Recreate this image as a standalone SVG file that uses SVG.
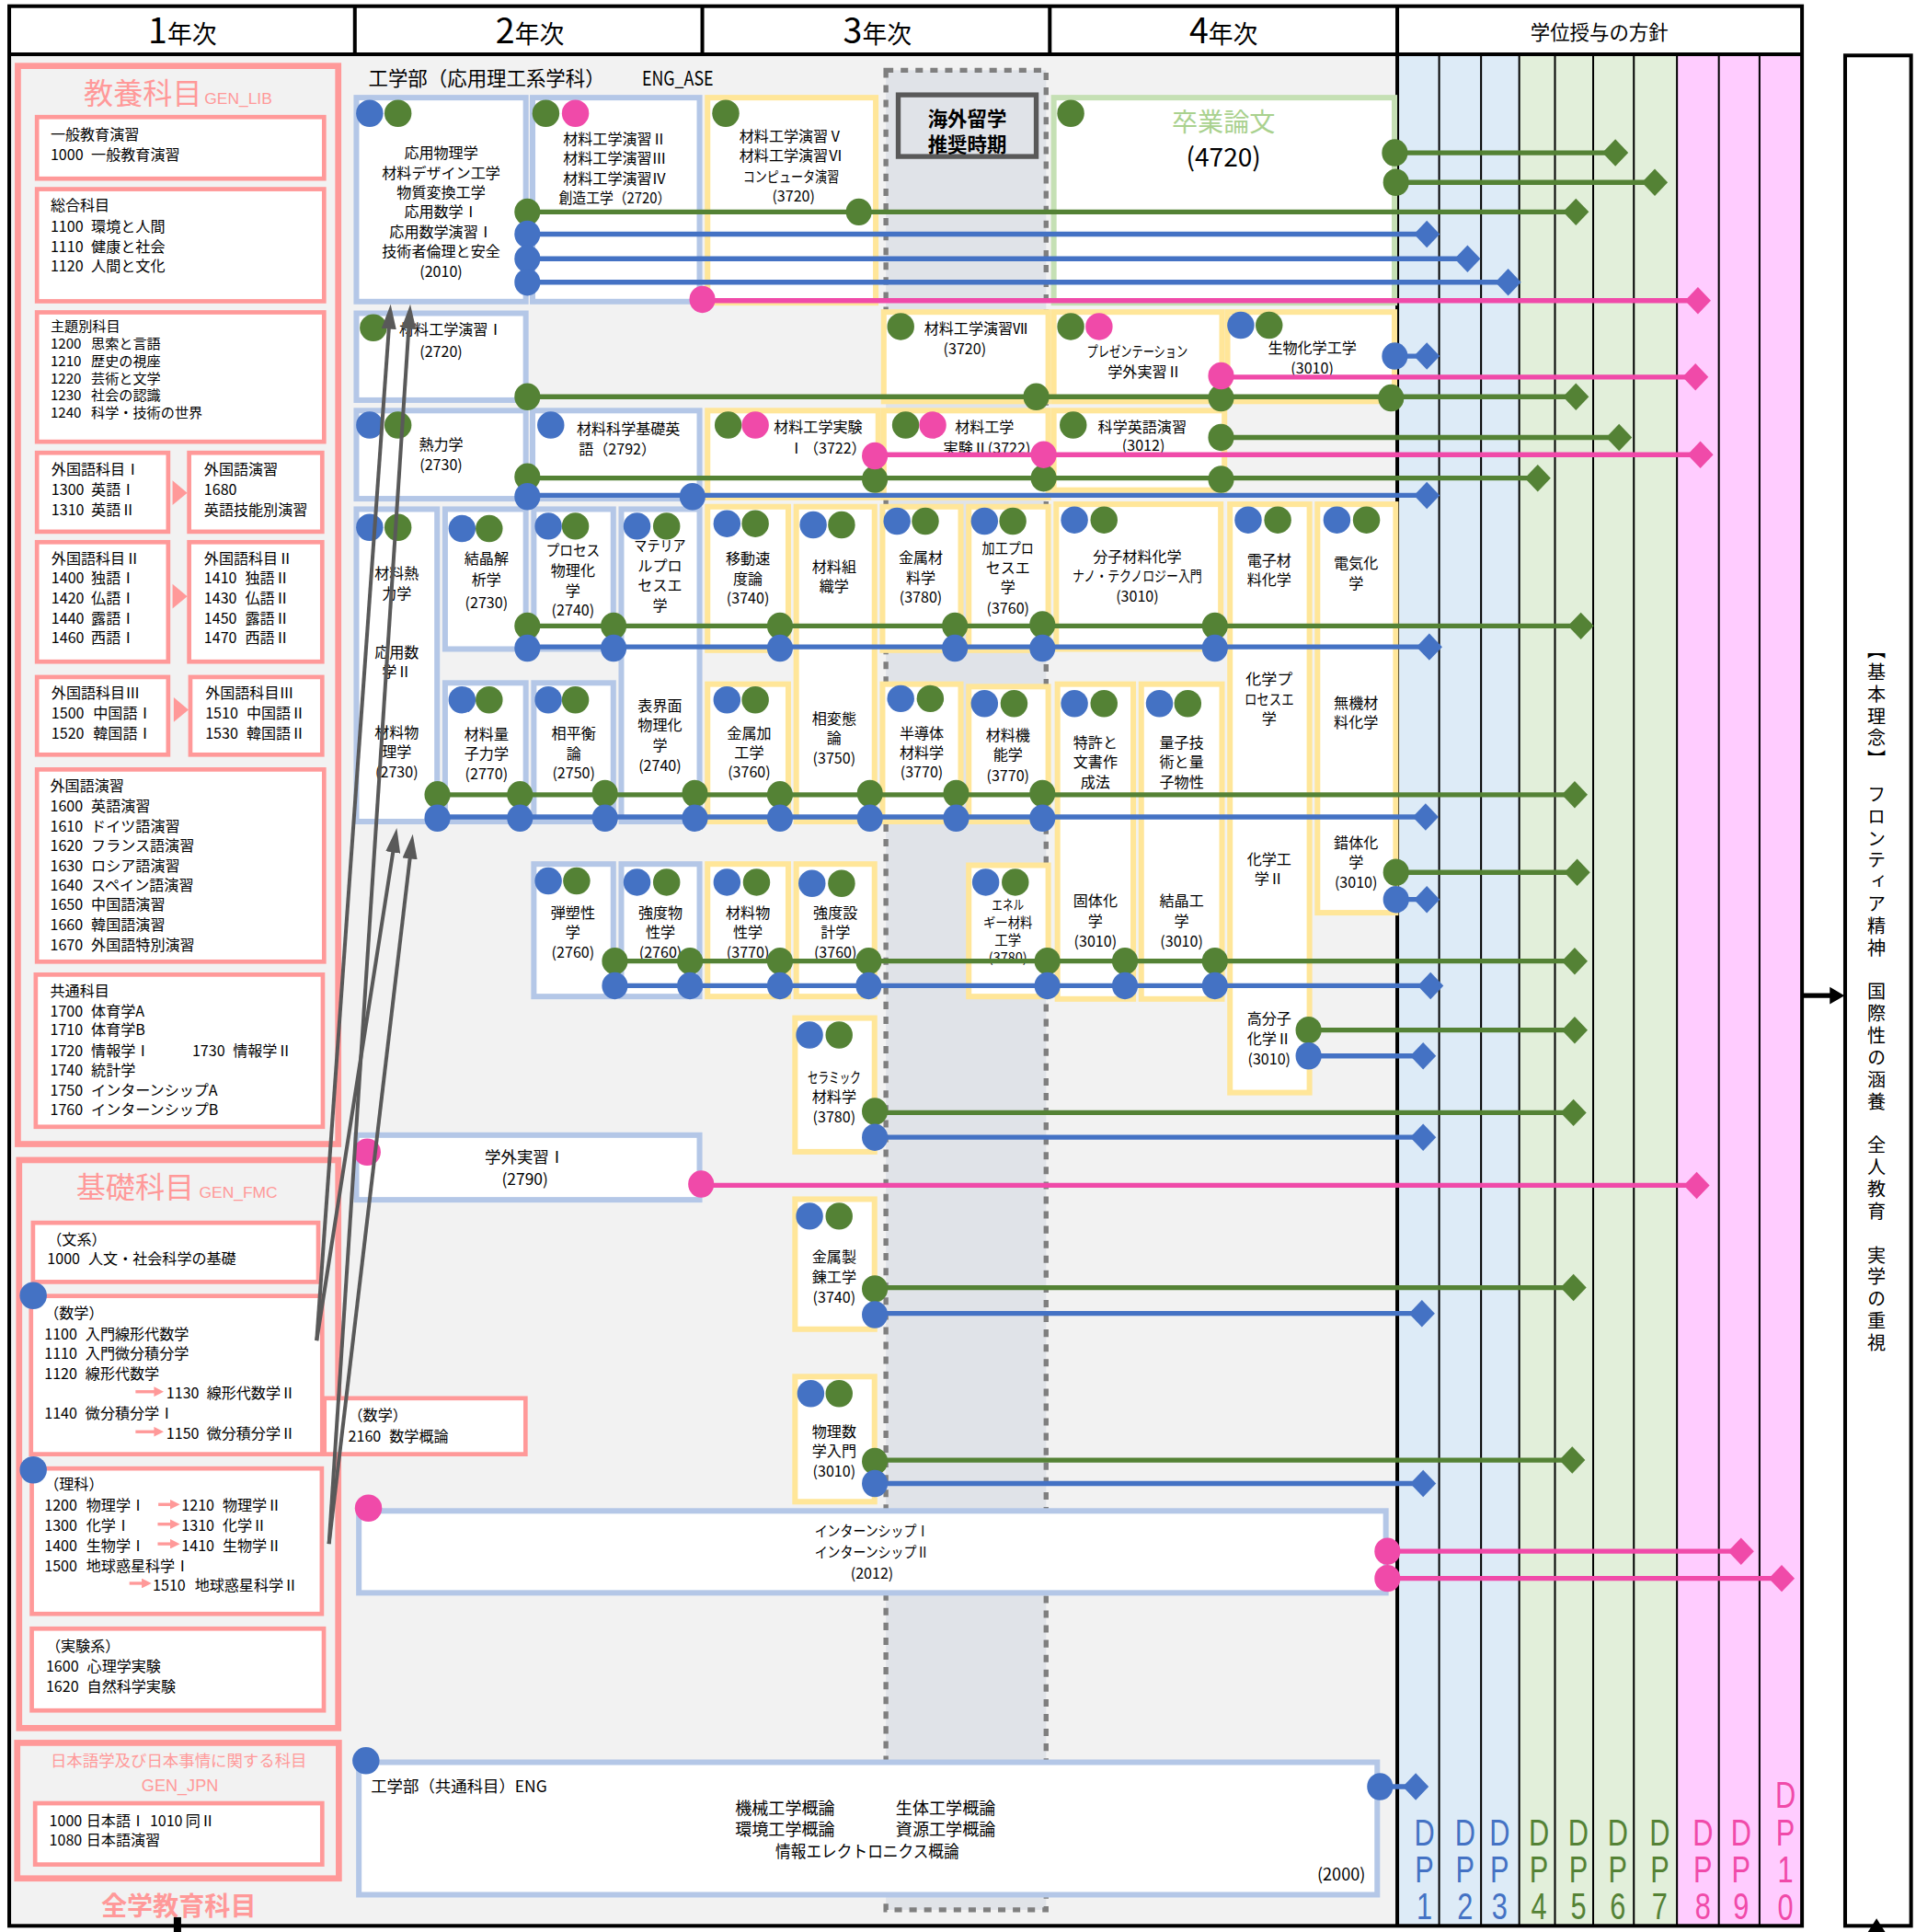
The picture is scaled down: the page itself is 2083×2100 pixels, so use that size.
<svg xmlns="http://www.w3.org/2000/svg" width="2083" height="2100" viewBox="0 0 2083 2100">
<style>
.t{font-family:"Noto Sans CJK JP","Noto Sans",sans-serif;font-size:12px;fill:#000;dominant-baseline:central}
.c{text-anchor:middle}
.e{text-anchor:end}
.pt{fill:#ff9999}
.hd{dominant-baseline:auto}
.bx{fill:#fff;stroke:#ff9999;stroke-width:3.5}
.ob{fill:#f2f2f2;stroke:#ff9999;stroke-width:5}
.nb{fill:#fff;stroke:#b4c7e7;stroke-width:4.5}
.ny{fill:#fff;stroke:#ffe699;stroke-width:4.5}
.ng{fill:#fff;stroke:#c5e0b4;stroke-width:4.5}
.db{fill:#4472c4}.dg{fill:#548235}.dp{fill:#f04aa9}
.lb{stroke:#4472c4;stroke-width:4}
.lg{stroke:#548235;stroke-width:4}
.lp{stroke:#f04aa9;stroke-width:4}
.ga{stroke:#595959;stroke-width:3;fill:none;marker-end:url(#ah)}
.pa{stroke:#ff9999;stroke-width:2.5;marker-end:url(#pah)}
.vl{stroke:#000;stroke-width:1.5}
.tk{stroke:#000;stroke-width:3}
.dpl{font-family:"Liberation Sans",Arial,sans-serif;font-size:31px;writing-mode:vertical-rl;text-orientation:upright;letter-spacing:-4.6px}
.vt{font-family:"Noto Sans CJK JP",sans-serif;font-size:15px;writing-mode:vertical-rl;letter-spacing:2.8px;fill:#000}
</style>
<defs>
<marker id="ah" markerUnits="userSpaceOnUse" viewBox="0 0 20 12" refX="14" refY="6" markerWidth="20" markerHeight="12" orient="auto"><path d="M0,0 L20,6 L0,12 z" fill="#595959"/></marker>
<marker id="pah" markerUnits="userSpaceOnUse" viewBox="0 0 8 8" refX="1" refY="4" markerWidth="8" markerHeight="8" orient="auto"><path d="M0,0 L8,4 L0,8 z" fill="#ff9999"/></marker>
</defs>
<g transform="scale(1.33955 1.33929)">
<rect x="0" y="0" width="1555" height="1568" fill="#fff"/>
<rect x="7" y="44" width="1127" height="1519" fill="#f2f2f2"/>
<rect x="1134" y="44" width="99" height="1519" fill="#ddebf7"/>
<rect x="1233" y="44" width="128" height="1519" fill="#e2efda"/>
<rect x="1361" y="44" width="101" height="1519" fill="#ffccff"/>
<g id="dp-lines">
<line class="vl" x1="1168" y1="44" x2="1168" y2="1563"/>
<line class="vl" x1="1202" y1="44" x2="1202" y2="1563"/>
<line class="vl" x1="1233" y1="44" x2="1233" y2="1563"/>
<line class="vl" x1="1262" y1="44" x2="1262" y2="1563"/>
<line class="vl" x1="1293" y1="44" x2="1293" y2="1563"/>
<line class="vl" x1="1326" y1="44" x2="1326" y2="1563"/>
<line class="vl" x1="1361" y1="44" x2="1361" y2="1563"/>
<line class="vl" x1="1395" y1="44" x2="1395" y2="1563"/>
<line class="vl" x1="1428" y1="44" x2="1428" y2="1563"/>
</g>
<g id="frame">
<rect x="7.5" y="5" width="1455" height="1558" fill="none" stroke="#000" stroke-width="3"/>
<line class="tk" x1="7" y1="44" x2="1462" y2="44"/>
<line class="tk" x1="288" y1="5" x2="288" y2="44"/>
<line class="tk" x1="570" y1="5" x2="570" y2="44"/>
<line class="tk" x1="852" y1="5" x2="852" y2="44"/>
<line class="tk" x1="1134" y1="5" x2="1134" y2="1563"/>
<text class="t c hd" x="148" y="35"><tspan style="font-size:28px">1</tspan><tspan style="font-size:20px">年次</tspan></text>
<text class="t c hd" x="430" y="35"><tspan style="font-size:28px">2</tspan><tspan style="font-size:20px">年次</tspan></text>
<text class="t c hd" x="712" y="35"><tspan style="font-size:28px">3</tspan><tspan style="font-size:20px">年次</tspan></text>
<text class="t c hd" x="993" y="35"><tspan style="font-size:28px">4</tspan><tspan style="font-size:20px">年次</tspan></text>
<text class="t c" x="1298" y="25" style="font-size:16px">学位授与の方針</text>
</g>
<g id="study-abroad">
<rect x="719" y="57" width="130" height="1493" fill="#e0e3e8" stroke="#7f7f7f" stroke-width="4" stroke-dasharray="6 6"/>
<rect x="729" y="77" width="112" height="50" fill="#e0e3e8" stroke="#595959" stroke-width="4"/>
<text class="t c" x="785" y="95" style="font-size:16px;font-weight:bold">海外留学</text>
<text class="t c" x="785" y="116" style="font-size:16px;font-weight:bold">推奨時期</text>
</g>
<g id="gen-lib">
<rect class="ob" x="14.5" y="53.5" width="260" height="875"/>
<text class="t pt hd" x="68" y="84.5" style="font-size:24px">教養科目<tspan dx="2" style="font-size:13px;font-family:'Liberation Sans',Arial,sans-serif">GEN_LIB</tspan></text>
<rect class="bx" x="30" y="95" width="233" height="50"/>
<text class="t"><tspan x="41" y="108">一般教育演習</tspan><tspan x="41" y="125">1000</tspan><tspan x="74" y="125">一般教育演習</tspan></text>
<rect class="bx" x="30" y="153.5" width="233" height="91"/>
<text class="t"><tspan x="41" y="166">総合科目</tspan><tspan x="41" y="182.6">1100</tspan><tspan x="74" y="182.6">環境と人間</tspan><tspan x="41" y="199.3">1110</tspan><tspan x="74" y="199.3">健康と社会</tspan><tspan x="41" y="215">1120</tspan><tspan x="74" y="215">人間と文化</tspan></text>
<rect class="bx" x="30" y="253.5" width="233" height="105"/>
<text class="t" style="font-size:11.3px"><tspan x="41" y="263.3">主題別科目</tspan><tspan x="41" y="277.6">1200</tspan><tspan x="74" y="277.6">思索と言語</tspan><tspan x="41" y="292">1210</tspan><tspan x="74" y="292">歴史の視座</tspan><tspan x="41" y="305.8">1220</tspan><tspan x="74" y="305.8">芸術と文学</tspan><tspan x="41" y="319.6">1230</tspan><tspan x="74" y="319.6">社会の認識</tspan><tspan x="41" y="333.4">1240</tspan><tspan x="74" y="333.4">科学・技術の世界</tspan></text>
<rect class="bx" x="30" y="367.5" width="106.5" height="64"/>
<text class="t"><tspan x="41.7" y="380">外国語科目Ⅰ</tspan><tspan x="41.7" y="396.5">1300</tspan><tspan x="74" y="396.5">英語Ⅰ</tspan><tspan x="41.7" y="412.6">1310</tspan><tspan x="74" y="412.6">英語Ⅱ</tspan></text>
<polygon points="140,390 140,410 152,400" fill="#ff9999"/>
<rect class="bx" x="153.5" y="367.5" width="108" height="64"/>
<text class="t"><tspan x="165.6" y="380">外国語演習</tspan><tspan x="165.6" y="396.5">1680</tspan><tspan x="165.6" y="412.6">英語技能別演習</tspan></text>
<rect class="bx" x="30" y="440" width="106.5" height="97"/>
<text class="t"><tspan x="41.7" y="452.3">外国語科目Ⅱ</tspan><tspan x="41.7" y="468">1400</tspan><tspan x="74" y="468">独語Ⅰ</tspan><tspan x="41.7" y="484.3">1420</tspan><tspan x="74" y="484.3">仏語Ⅰ</tspan><tspan x="41.7" y="501">1440</tspan><tspan x="74" y="501">露語Ⅰ</tspan><tspan x="41.7" y="516.6">1460</tspan><tspan x="74" y="516.6">西語Ⅰ</tspan></text>
<polygon points="140,474 140,494 152,484" fill="#ff9999"/>
<rect class="bx" x="153.5" y="440" width="108" height="97"/>
<text class="t"><tspan x="165.6" y="452.3">外国語科目Ⅱ</tspan><tspan x="165.6" y="468">1410</tspan><tspan x="199" y="468">独語Ⅱ</tspan><tspan x="165.6" y="484.3">1430</tspan><tspan x="199" y="484.3">仏語Ⅱ</tspan><tspan x="165.6" y="501">1450</tspan><tspan x="199" y="501">露語Ⅱ</tspan><tspan x="165.6" y="516.6">1470</tspan><tspan x="199" y="516.6">西語Ⅱ</tspan></text>
<rect class="bx" x="30" y="549.5" width="106.5" height="63"/>
<text class="t"><tspan x="41.7" y="561.6">外国語科目Ⅲ</tspan><tspan x="41.7" y="578">1500</tspan><tspan x="75.6" y="578">中国語Ⅰ</tspan><tspan x="41.7" y="594.3">1520</tspan><tspan x="75.6" y="594.3">韓国語Ⅰ</tspan></text>
<polygon points="141,566 141,586 153,576" fill="#ff9999"/>
<rect class="bx" x="154.5" y="549.5" width="107" height="63"/>
<text class="t"><tspan x="166.6" y="561.6">外国語科目Ⅲ</tspan><tspan x="166.6" y="578">1510</tspan><tspan x="200" y="578">中国語Ⅱ</tspan><tspan x="166.6" y="594.3">1530</tspan><tspan x="200" y="594.3">韓国語Ⅱ</tspan></text>
<rect class="bx" x="30" y="624.5" width="233" height="156"/>
<text class="t"><tspan x="40.7" y="636.8">外国語演習</tspan><tspan x="40.7" y="653">1600</tspan><tspan x="74" y="653">英語演習</tspan><tspan x="40.7" y="669.7">1610</tspan><tspan x="74" y="669.7">ドイツ語演習</tspan><tspan x="40.7" y="685.6">1620</tspan><tspan x="74" y="685.6">フランス語演習</tspan><tspan x="40.7" y="701.8">1630</tspan><tspan x="74" y="701.8">ロシア語演習</tspan><tspan x="40.7" y="717.5">1640</tspan><tspan x="74" y="717.5">スペイン語演習</tspan><tspan x="40.7" y="733.5">1650</tspan><tspan x="74" y="733.5">中国語演習</tspan><tspan x="40.7" y="750">1660</tspan><tspan x="74" y="750">韓国語演習</tspan><tspan x="40.7" y="766">1670</tspan><tspan x="74" y="766">外国語特別演習</tspan></text>
<rect class="bx" x="29" y="791" width="233" height="123.5"/>
<text class="t"><tspan x="40.7" y="803.5">共通科目</tspan><tspan x="40.7" y="819.6">1700</tspan><tspan x="74" y="819.6">体育学A</tspan><tspan x="40.7" y="835">1710</tspan><tspan x="74" y="835">体育学B</tspan><tspan x="40.7" y="851.8">1720</tspan><tspan x="74" y="851.8">情報学Ⅰ</tspan><tspan x="156" y="851.8">1730</tspan><tspan x="189" y="851.8">情報学Ⅱ</tspan><tspan x="40.7" y="868">1740</tspan><tspan x="74" y="868">統計学</tspan><tspan x="40.7" y="884">1750</tspan><tspan x="74" y="884">インターンシップA</tspan><tspan x="40.7" y="900">1760</tspan><tspan x="74" y="900">インターンシップB</tspan></text>
</g>
<g id="gen-fmc">
<rect class="ob" x="15.5" y="941.5" width="259" height="461"/>
<text class="t pt hd" x="61.7" y="972" style="font-size:24px">基礎科目<tspan dx="4" style="font-size:13px;font-family:'Liberation Sans',Arial,sans-serif">GEN_FMC</tspan></text>
<rect class="bx" x="26.8" y="992.4" width="231.5" height="48"/>
<text class="t"><tspan x="38.3" y="1005">（文系）</tspan><tspan x="38.3" y="1021">1000</tspan><tspan x="71.7" y="1021">人文・社会科学の基礎</tspan></text>
<rect class="bx" x="25.2" y="1051.8" width="236.3" height="128.4"/>
<text class="t"><tspan x="36" y="1065">（数学）</tspan><tspan x="36" y="1082">1100</tspan><tspan x="69.3" y="1082">入門線形代数学</tspan><tspan x="36" y="1097.8">1110</tspan><tspan x="69.3" y="1097.8">入門微分積分学</tspan><tspan x="36" y="1114">1120</tspan><tspan x="69.3" y="1114">線形代数学</tspan><tspan x="135" y="1130">1130</tspan><tspan x="167.7" y="1130">線形代数学Ⅱ</tspan><tspan x="36" y="1146">1140</tspan><tspan x="69.3" y="1146">微分積分学Ⅰ</tspan><tspan x="135" y="1162.5">1150</tspan><tspan x="167.7" y="1162.5">微分積分学Ⅱ</tspan></text>
<line class="pa" x1="110" y1="1129.5" x2="126" y2="1129.5"/>
<line class="pa" x1="110" y1="1162" x2="126" y2="1162"/>
<rect class="bx" x="263.3" y="1134.8" width="163.2" height="45.4"/>
<text class="t"><tspan x="282.6" y="1147.8">（数学）</tspan><tspan x="282.6" y="1164.5">2160</tspan><tspan x="316" y="1164.5">数学概論</tspan></text>
<rect class="bx" x="25.8" y="1191.8" width="235.4" height="118"/>
<text class="t"><tspan x="36" y="1204">（理科）</tspan><tspan x="36" y="1221">1200</tspan><tspan x="70" y="1221">物理学Ⅰ</tspan><tspan x="147.3" y="1221">1210</tspan><tspan x="180.6" y="1221">物理学Ⅱ</tspan><tspan x="36" y="1237.5">1300</tspan><tspan x="70" y="1237.5">化学Ⅰ</tspan><tspan x="147.3" y="1237.5">1310</tspan><tspan x="180.6" y="1237.5">化学Ⅱ</tspan><tspan x="36" y="1253.5">1400</tspan><tspan x="70" y="1253.5">生物学Ⅰ</tspan><tspan x="147.3" y="1253.5">1410</tspan><tspan x="180.6" y="1253.5">生物学Ⅱ</tspan><tspan x="36" y="1270">1500</tspan><tspan x="70" y="1270">地球惑星科学Ⅰ</tspan><tspan x="124" y="1285.6">1510</tspan><tspan x="158" y="1285.6">地球惑星科学Ⅱ</tspan></text>
<line class="pa" x1="128.5" y1="1221" x2="139" y2="1221"/>
<line class="pa" x1="128" y1="1237" x2="139" y2="1237"/>
<line class="pa" x1="128" y1="1253" x2="139" y2="1253"/>
<line class="pa" x1="105" y1="1285" x2="116" y2="1285"/>
<rect class="bx" x="25.8" y="1321.8" width="237" height="66.4"/>
<text class="t"><tspan x="37.3" y="1335">（実験系）</tspan><tspan x="37.3" y="1351.8">1600</tspan><tspan x="70.6" y="1351.8">心理学実験</tspan><tspan x="37.3" y="1368">1620</tspan><tspan x="70.6" y="1368">自然科学実験</tspan></text>
<circle class="db" cx="27" cy="1051.5" r="11"/>
<circle class="db" cx="27" cy="1193" r="11"/>
</g>
<g id="gen-jpn">
<rect class="ob" x="14" y="1414.5" width="261" height="110"/>
<text class="t c pt" x="145" y="1428" style="font-size:13px">日本語学及び日本事情に関する科目</text>
<text class="t c pt" x="146" y="1449" style="font-size:13.5px;font-family:'Liberation Sans',Arial,sans-serif">GEN_JPN</text>
<rect class="bx" x="28.5" y="1463.5" width="233" height="49.7"/>
<text class="t"><tspan x="40" y="1476.7">1000</tspan><tspan x="70" y="1476.7">日本語Ⅰ</tspan><tspan x="121.6" y="1476.7">1010</tspan><tspan x="150.6" y="1476.7">同Ⅱ</tspan><tspan x="40" y="1492.5">1080</tspan><tspan x="70" y="1492.5">日本語演習</tspan></text>
</g>
<text id="all-univ" class="t c pt" x="145" y="1545" style="font-size:21px;font-weight:bold">全学教育科目</text>
<text id="eng-ase" class="t" y="61.7" style="font-size:16px"><tspan x="299">工学部（応用理工系学科）</tspan><tspan x="521" textLength="58" lengthAdjust="spacingAndGlyphs">ENG_ASE</tspan></text>

<g id="n2010"><rect class="nb" x="289.25" y="79.25" width="137.5" height="165.5"/>
<circle class="db" cx="300" cy="92" r="11"/><circle class="dg" cx="323" cy="92" r="11"/>
<text class="t c"><tspan x="358" y="123.3">応用物理学</tspan><tspan x="358" y="139.3">材料デザイン工学</tspan><tspan x="358" y="155">物質変換工学</tspan><tspan x="358" y="171">応用数学Ⅰ</tspan><tspan x="358" y="187.6">応用数学演習Ⅰ</tspan><tspan x="358" y="203.3">技術者倫理と安全</tspan><tspan x="358" y="219.3">(2010)</tspan></text></g>
<g id="n2720b"><rect class="nb" x="432.25" y="79.25" width="135.5" height="165.5"/>
<circle class="dg" cx="443" cy="92" r="11"/><circle class="dp" cx="467" cy="92" r="11"/>
<text class="t c"><tspan x="499" y="112">材料工学演習Ⅱ</tspan><tspan x="499" y="127.8">材料工学演習Ⅲ</tspan><tspan x="499" y="143.8">材料工学演習Ⅳ</tspan><tspan x="499" y="159.8" textLength="91" lengthAdjust="spacingAndGlyphs">創造工学（2720）</tspan></text></g>
<g id="n3720a"><rect class="ny" x="574.25" y="79.25" width="136.5" height="166.5"/>
<circle class="dg" cx="589" cy="92" r="11"/>
<text class="t c"><tspan x="642" y="109.6">材料工学演習Ⅴ</tspan><tspan x="642" y="125.8">材料工学演習Ⅵ</tspan><tspan x="642" y="142.5" textLength="78" lengthAdjust="spacingAndGlyphs">コンピュータ演習</tspan><tspan x="644" y="158">(3720)</tspan></text></g>
<g id="n4720"><rect class="ng" x="855.25" y="79.25" width="276.5" height="166.5"/>
<circle class="dg" cx="869" cy="92" r="11"/>
<text class="t c" x="993" y="97.5" style="font-size:21px;fill:#a9d18e">卒業論文</text>
<text class="t c" x="993" y="126" style="font-size:21px">(4720)</text></g>
<g id="n2720a"><rect class="nb" x="289.25" y="254.25" width="137.5" height="70.5"/>
<circle class="dg" cx="303" cy="266" r="11"/>
<text class="t c"><tspan x="366" y="266.6">材料工学演習Ⅰ</tspan><tspan x="358" y="284.3">(2720)</tspan></text></g>
<g id="n3720b"><rect class="ny" x="717.25" y="253.25" width="133.5" height="72.5"/>
<circle class="dg" cx="731" cy="265" r="11"/>
<text class="t c"><tspan x="792" y="266">材料工学演習Ⅶ</tspan><tspan x="783" y="282.6">(3720)</tspan></text></g>
<g id="n-pres"><rect class="ny" x="855.25" y="253.25" width="136.5" height="72.5"/>
<circle class="dg" cx="869" cy="265" r="11"/><circle class="dp" cx="892" cy="265" r="11"/>
<text class="t c"><tspan x="923" y="284.5" textLength="82" lengthAdjust="spacingAndGlyphs">プレゼンテーション</tspan><tspan x="929" y="300.6">学外実習Ⅱ</tspan></text></g>
<g id="n-biochem"><rect class="ny" x="996.25" y="253.25" width="135.5" height="72.5"/>
<circle class="db" cx="1007" cy="264" r="11"/><circle class="dg" cx="1030" cy="264" r="11"/>
<text class="t c"><tspan x="1065" y="281.3">生物化学工学</tspan><tspan x="1065" y="297.9">(3010)</tspan></text></g>
<g id="n2730a"><rect class="nb" x="289.25" y="333.25" width="137.5" height="71.5"/>
<circle class="db" cx="300" cy="345" r="11"/><circle class="dg" cx="323" cy="345" r="11"/>
<text class="t c"><tspan x="358" y="360">熱力学</tspan><tspan x="358" y="376.6">(2730)</tspan></text></g>
<g id="n2792"><rect class="nb" x="432.25" y="333.25" width="135.5" height="71.5"/>
<circle class="db" cx="447" cy="345" r="11"/>
<text class="t c"><tspan x="510" y="347">材料科学基礎英</tspan><tspan x="501" y="364">語（2792）</tspan></text></g>
<g id="n3722a"><rect class="ny" x="574.25" y="333.25" width="138.5" height="70.5"/>
<circle class="dg" cx="591" cy="345" r="11"/><circle class="dp" cx="613" cy="345" r="11"/>
<text class="t"><tspan x="628" y="345.7">材料工学実験</tspan><tspan class="e" x="703" y="363">Ⅰ（3722）</tspan></text></g>
<g id="n3722b"><rect class="ny" x="717.25" y="333.25" width="133.5" height="70.5"/>
<circle class="dg" cx="735" cy="345" r="11"/><circle class="dp" cx="757" cy="345" r="11"/>
<text class="t c"><tspan x="799" y="345.7">材料工学</tspan><tspan x="801" y="363">実験Ⅱ(3722)</tspan></text></g>
<g id="n3012"><rect class="ny" x="855.25" y="333.25" width="138.5" height="64.5"/>
<circle class="dg" cx="871" cy="345" r="11"/>
<text class="t c"><tspan x="927" y="345.7">科学英語演習</tspan><tspan x="928" y="361">(3012)</tspan></text></g>

<g id="n2730b"><rect class="nb" x="289.25" y="413.25" width="65.5" height="253.5"/>
<circle class="db" cx="300" cy="428" r="11"/><circle class="dg" cx="323" cy="428" r="11"/>
<text class="t c"><tspan x="322" y="464.4">材料熱</tspan><tspan x="322" y="480.5">力学</tspan><tspan x="322" y="528.5">応用数</tspan><tspan x="322" y="544.4">学Ⅱ</tspan><tspan x="322" y="593.6">材料物</tspan><tspan x="322" y="609.4">理学</tspan><tspan x="322" y="625.7">(2730)</tspan></text></g>
<g id="n2730c"><rect class="nb" x="361.25" y="413.25" width="65.5" height="113.5"/>
<circle class="db" cx="375" cy="429" r="11"/><circle class="dg" cx="397" cy="429" r="11"/>
<text class="t c"><tspan x="394.8" y="452.6">結晶解</tspan><tspan x="394.8" y="469.3">析学</tspan><tspan x="394.8" y="488">(2730)</tspan></text></g>
<g id="n2770"><rect class="nb" x="361.25" y="554.25" width="65.5" height="112.5"/>
<circle class="db" cx="375" cy="568" r="11"/><circle class="dg" cx="397" cy="568" r="11"/>
<text class="t c"><tspan x="394.8" y="595">材料量</tspan><tspan x="394.8" y="610.8">子力学</tspan><tspan x="394.8" y="627">(2770)</tspan></text></g>
<g id="n2740a"><rect class="nb" x="433.25" y="413.25" width="64.5" height="113.5"/>
<circle class="db" cx="445" cy="427" r="11"/><circle class="dg" cx="467" cy="427" r="11"/>
<text class="t c"><tspan x="465" y="445.7" textLength="44" lengthAdjust="spacingAndGlyphs">プロセス</tspan><tspan x="465" y="462">物理化</tspan><tspan x="465" y="478.3">学</tspan><tspan x="465" y="494.6">(2740)</tspan></text></g>
<g id="n2750"><rect class="nb" x="433.25" y="554.25" width="64.5" height="112.5"/>
<circle class="db" cx="445" cy="568" r="11"/><circle class="dg" cx="467" cy="568" r="11"/>
<text class="t c"><tspan x="465.6" y="594.4">相平衡</tspan><tspan x="465.6" y="610.6">論</tspan><tspan x="465.6" y="626.8">(2750)</tspan></text></g>
<g id="n2740b"><rect class="nb" x="504.25" y="413.25" width="63.5" height="253.5"/>
<circle class="db" cx="517" cy="427" r="11"/><circle class="dg" cx="541" cy="427" r="11"/>
<text class="t c"><tspan x="535.6" y="441.8" textLength="42" lengthAdjust="spacingAndGlyphs">マテリア</tspan><tspan x="535.6" y="458.2">ルプロ</tspan><tspan x="535.6" y="474.4">セスエ</tspan><tspan x="535.6" y="490.6">学</tspan><tspan x="535.6" y="571.6">表界面</tspan><tspan x="535.6" y="587.6">物理化</tspan><tspan x="535.6" y="603.7">学</tspan><tspan x="535.6" y="620.4">(2740)</tspan></text></g>
<g id="n3740a"><rect class="ny" x="574.25" y="411.25" width="65.5" height="116.5"/>
<circle class="db" cx="590" cy="425" r="11"/><circle class="dg" cx="613" cy="425" r="11"/>
<text class="t c"><tspan x="607" y="452.6">移動速</tspan><tspan x="607" y="468.6">度論</tspan><tspan x="607" y="484.6">(3740)</tspan></text></g>
<g id="n3760a"><rect class="ny" x="574.25" y="555.25" width="65.5" height="111.5"/>
<circle class="db" cx="590" cy="568" r="11"/><circle class="dg" cx="613" cy="568" r="11"/>
<text class="t c"><tspan x="608" y="594">金属加</tspan><tspan x="608" y="610">工学</tspan><tspan x="608" y="626">(3760)</tspan></text></g>
<g id="n3750"><rect class="ny" x="646.25" y="411.25" width="63.5" height="255.5"/>
<circle class="db" cx="660" cy="426" r="11"/><circle class="dg" cx="683" cy="426" r="11"/>
<text class="t c"><tspan x="677" y="459">材料組</tspan><tspan x="677" y="475">織学</tspan><tspan x="677" y="582.4">相変態</tspan><tspan x="677" y="598.4">論</tspan><tspan x="677" y="614.4">(3750)</tspan></text></g>
<g id="n3780a"><rect class="ny" x="716.25" y="411.25" width="63.5" height="116.5"/>
<circle class="db" cx="728" cy="423" r="11"/><circle class="dg" cx="751" cy="423" r="11"/>
<text class="t c"><tspan x="747.3" y="451.8">金属材</tspan><tspan x="747.3" y="467.8">料学</tspan><tspan x="747.3" y="483.8">(3780)</tspan></text></g>
<g id="n3770a"><rect class="ny" x="716.25" y="555.25" width="63.5" height="111.5"/>
<circle class="db" cx="731" cy="567" r="11"/><circle class="dg" cx="755" cy="567" r="11"/>
<text class="t c"><tspan x="748" y="594">半導体</tspan><tspan x="748" y="610">材料学</tspan><tspan x="748" y="626">(3770)</tspan></text></g>
<g id="n3760b"><rect class="ny" x="786.25" y="411.25" width="64.5" height="116.5"/>
<circle class="db" cx="799" cy="423" r="11"/><circle class="dg" cx="822" cy="423" r="11"/>
<text class="t c"><tspan x="818" y="443.9" textLength="42" lengthAdjust="spacingAndGlyphs">加工プロ</tspan><tspan x="818" y="459.9">セスエ</tspan><tspan x="818" y="475.9">学</tspan><tspan x="818" y="492.7">(3760)</tspan></text></g>
<g id="n3770b"><rect class="ny" x="786.25" y="557.25" width="64.5" height="109.5"/>
<circle class="db" cx="799" cy="571" r="11"/><circle class="dg" cx="823" cy="571" r="11"/>
<text class="t c"><tspan x="818" y="595.7">材料機</tspan><tspan x="818" y="611.9">能学</tspan><tspan x="818" y="628.5">(3770)</tspan></text></g>
<g id="n3010a"><rect class="ny" x="857.25" y="409.25" width="133.5" height="117.5"/>
<circle class="db" cx="872" cy="422" r="11"/><circle class="dg" cx="896" cy="422" r="11"/>
<text class="t c"><tspan x="923" y="451">分子材料化学</tspan><tspan x="923" y="467" textLength="105" lengthAdjust="spacingAndGlyphs">ナノ・テクノロジー入門</tspan><tspan x="923" y="483">(3010)</tspan></text></g>
<g id="n3010b"><rect class="ny" x="858.25" y="555.25" width="61.5" height="255.5"/>
<circle class="db" cx="872" cy="571" r="11"/><circle class="dg" cx="896" cy="571" r="11"/>
<text class="t c"><tspan x="889" y="601.8">特許と</tspan><tspan x="889" y="617.8">文書作</tspan><tspan x="889" y="633.8">成法</tspan><tspan x="889" y="730.6">固体化</tspan><tspan x="889" y="746.8">学</tspan><tspan x="889" y="763">(3010)</tspan></text></g>
<g id="n3010c"><rect class="ny" x="926.25" y="555.25" width="65.5" height="255.5"/>
<circle class="db" cx="941" cy="571" r="11"/><circle class="dg" cx="964" cy="571" r="11"/>
<text class="t c"><tspan x="959" y="601.8">量子技</tspan><tspan x="959" y="617.8">術と量</tspan><tspan x="959" y="633.8">子物性</tspan><tspan x="959" y="730.6">結晶工</tspan><tspan x="959" y="746.8">学</tspan><tspan x="959" y="763">(3010)</tspan></text></g>
<g id="n3010d"><rect class="ny" x="998.25" y="409.25" width="64.5" height="477.5"/>
<circle class="db" cx="1013" cy="422" r="11"/><circle class="dg" cx="1037" cy="422" r="11"/>
<text class="t c"><tspan x="1030" y="453.8">電子材</tspan><tspan x="1030" y="469.8">料化学</tspan><tspan x="1030" y="550.6" textLength="38" lengthAdjust="spacingAndGlyphs">化学プ</tspan><tspan x="1030" y="566.6" textLength="40" lengthAdjust="spacingAndGlyphs">ロセスエ</tspan><tspan x="1030" y="582.6">学</tspan><tspan x="1030" y="696.5">化学工</tspan><tspan x="1030" y="712.5">学Ⅱ</tspan><tspan x="1030" y="825.8">高分子</tspan><tspan x="1030" y="842">化学Ⅱ</tspan><tspan x="1030" y="858.4">(3010)</tspan></text></g>
<g id="n3010e"><rect class="ny" x="1069.25" y="409.25" width="63.5" height="331.5"/>
<circle class="db" cx="1085" cy="422" r="11"/><circle class="dg" cx="1109" cy="422" r="11"/>
<text class="t c"><tspan x="1100.5" y="456.5">電気化</tspan><tspan x="1100.5" y="472.5">学</tspan><tspan x="1100.5" y="569.7">無機材</tspan><tspan x="1100.5" y="585.7">料化学</tspan><tspan x="1100.5" y="683">錯体化</tspan><tspan x="1100.5" y="699">学</tspan><tspan x="1100.5" y="715">(3010)</tspan></text></g>
<g id="n2760a"><rect class="nb" x="433.25" y="701.25" width="64.5" height="107.5"/>
<circle class="db" cx="445" cy="715" r="11"/><circle class="dg" cx="468" cy="715" r="11"/>
<text class="t c"><tspan x="465" y="739.6">弾塑性</tspan><tspan x="465" y="755.6">学</tspan><tspan x="465" y="772">(2760)</tspan></text></g>
<g id="n2760b"><rect class="nb" x="504.25" y="701.25" width="63.5" height="107.5"/>
<circle class="db" cx="517" cy="716" r="11"/><circle class="dg" cx="541" cy="716" r="11"/>
<text class="t c"><tspan x="536" y="739.6">強度物</tspan><tspan x="536" y="755.6">性学</tspan><tspan x="536" y="772">(2760)</tspan></text></g>
<g id="n3770c"><rect class="ny" x="574.25" y="701.25" width="65.5" height="107.5"/>
<circle class="db" cx="590" cy="716" r="11"/><circle class="dg" cx="614" cy="716" r="11"/>
<text class="t c"><tspan x="607" y="739.6">材料物</tspan><tspan x="607" y="755.6">性学</tspan><tspan x="607" y="772">(3770)</tspan></text></g>
<g id="n3760c"><rect class="ny" x="646.25" y="701.25" width="63.5" height="107.5"/>
<circle class="db" cx="659" cy="717" r="11"/><circle class="dg" cx="683" cy="717" r="11"/>
<text class="t c"><tspan x="678" y="739.6">強度設</tspan><tspan x="678" y="755.6">計学</tspan><tspan x="678" y="772">(3760)</tspan></text></g>
<g id="n3780b"><rect class="ny" x="786.25" y="702.25" width="64.5" height="106.5"/>
<circle class="db" cx="800" cy="716" r="11"/><circle class="dg" cx="824" cy="716" r="11"/>
<text class="t c" style="font-size:10.8px"><tspan x="818" y="733.5" textLength="26" lengthAdjust="spacingAndGlyphs">エネル</tspan><tspan x="818" y="747.5" textLength="40" lengthAdjust="spacingAndGlyphs">ギー材料</tspan><tspan x="818" y="761.8">工学</tspan><tspan x="818" y="776">(3780)</tspan></text></g>
<g id="n3780c"><rect class="ny" x="645.25" y="826.25" width="64.5" height="108.5"/>
<circle class="db" cx="657" cy="840" r="11"/><circle class="dg" cx="681" cy="840" r="11"/>
<text class="t c"><tspan x="677" y="873.8" textLength="43" lengthAdjust="spacingAndGlyphs">セラミック</tspan><tspan x="677" y="889.4">材料学</tspan><tspan x="677" y="905.4">(3780)</tspan></text></g>
<g id="n2790"><rect class="nb" x="289.25" y="921.25" width="278.5" height="52.5"/>
<circle class="dp" cx="298" cy="935" r="11"/>
<text class="t c" style="font-size:13px"><tspan x="426" y="937.5">学外実習Ⅰ</tspan><tspan x="426" y="955.6">(2790)</tspan></text></g>
<g id="n3740b"><rect class="ny" x="645.25" y="973.25" width="64.5" height="105.5"/>
<circle class="db" cx="657" cy="987" r="11"/><circle class="dg" cx="681" cy="987" r="11"/>
<text class="t c"><tspan x="677" y="1019">金属製</tspan><tspan x="677" y="1035.3">錬工学</tspan><tspan x="677" y="1051.8">(3740)</tspan></text></g>
<g id="n3010f"><rect class="ny" x="645.25" y="1117.25" width="64.5" height="101.5"/>
<circle class="db" cx="658" cy="1131" r="11"/><circle class="dg" cx="681" cy="1131" r="11"/>
<text class="t c"><tspan x="677" y="1160.7">物理数</tspan><tspan x="677" y="1177">学入門</tspan><tspan x="677" y="1193.2">(3010)</tspan></text></g>
<g id="n2012"><rect class="nb" x="291.25" y="1226.25" width="833.5" height="66.5"/>
<circle class="dp" cx="299" cy="1224" r="11"/>
<text class="t c"><tspan x="707.7" y="1242" textLength="93" lengthAdjust="spacingAndGlyphs">インターンシップⅠ</tspan><tspan x="707.7" y="1259" textLength="93" lengthAdjust="spacingAndGlyphs">インターンシップⅡ</tspan><tspan x="707.7" y="1276">(2012)</tspan></text></g>
<g id="n2000"><rect class="nb" x="291.25" y="1430.25" width="826.5" height="107.5"/>
<circle class="db" cx="297" cy="1429" r="11"/>
<text class="t" style="font-size:13px"><tspan x="301" y="1448.7">工学部（共通科目）ENG</tspan></text>
<text class="t" style="font-size:13.5px"><tspan x="596.6" y="1466.4">機械工学概論</tspan><tspan x="727" y="1466.4">生体工学概論</tspan><tspan x="596.6" y="1484">環境工学概論</tspan><tspan x="727" y="1484">資源工学概論</tspan><tspan x="629.4" y="1501.4" textLength="149" lengthAdjust="spacingAndGlyphs">情報エレクトロニクス概論</tspan><tspan x="1069" y="1519.9">(2000)</tspan></text></g>

<g id="connectors">
<line class="lg" x1="428" y1="172" x2="1279" y2="172"/>
<line class="lb" x1="428" y1="190" x2="1158" y2="190"/>
<line class="lb" x1="428" y1="210" x2="1191" y2="210"/>
<line class="lb" x1="428" y1="229" x2="1224" y2="229"/>
<line class="lp" x1="570" y1="244" x2="1378" y2="244"/>
<line class="lg" x1="1132" y1="124" x2="1311" y2="124"/>
<line class="lg" x1="1133" y1="148" x2="1343" y2="148"/>
<line class="lg" x1="428" y1="322" x2="1279" y2="322"/>
<line class="lb" x1="1132" y1="289" x2="1158" y2="289"/>
<line class="lp" x1="991" y1="306" x2="1376" y2="306"/>
<line class="lg" x1="991" y1="355" x2="1314" y2="355"/>
<line class="lp" x1="710" y1="369" x2="1380" y2="369"/>
<line class="lg" x1="428" y1="388" x2="1248" y2="388"/>
<line class="lb" x1="428" y1="402" x2="1158" y2="402"/>
<line class="lg" x1="428" y1="508" x2="1283" y2="508"/>
<line class="lb" x1="428" y1="525" x2="1160" y2="525"/>
<line class="lg" x1="355" y1="645" x2="1278" y2="645"/>
<line class="lb" x1="355" y1="663" x2="1157" y2="663"/>
<line class="lg" x1="1133" y1="708" x2="1280" y2="708"/>
<line class="lb" x1="1133" y1="730" x2="1158" y2="730"/>
<line class="lg" x1="499" y1="780" x2="1278" y2="780"/>
<line class="lb" x1="499" y1="800" x2="1161" y2="800"/>
<line class="lg" x1="1062" y1="836" x2="1278" y2="836"/>
<line class="lb" x1="1062" y1="857" x2="1155" y2="857"/>
<line class="lg" x1="710" y1="903" x2="1277" y2="903"/>
<line class="lb" x1="710" y1="923" x2="1155" y2="923"/>
<line class="lp" x1="569" y1="962" x2="1377" y2="962"/>
<line class="lg" x1="710" y1="1045" x2="1277" y2="1045"/>
<line class="lb" x1="710" y1="1066" x2="1154" y2="1066"/>
<line class="lg" x1="710" y1="1185" x2="1276" y2="1185"/>
<line class="lb" x1="710" y1="1204" x2="1155" y2="1204"/>
<line class="lp" x1="1126" y1="1259" x2="1413" y2="1259"/>
<line class="lp" x1="1126" y1="1281" x2="1446" y2="1281"/>
<line class="lb" x1="1120" y1="1450" x2="1149" y2="1450"/>
<g class="dg">
<ellipse cx="428" cy="172" rx="10.5" ry="11"/><ellipse cx="697" cy="172" rx="10.5" ry="11"/>
<ellipse cx="1132" cy="124" rx="10.5" ry="11"/><ellipse cx="1133" cy="148" rx="10.5" ry="11"/>
<ellipse cx="428" cy="322" rx="10.5" ry="11"/><ellipse cx="841" cy="322" rx="10.5" ry="11"/><ellipse cx="991" cy="323" rx="10.5" ry="11"/><ellipse cx="1129" cy="323" rx="10.5" ry="11"/>
<ellipse cx="991" cy="355" rx="10.5" ry="11"/>
<ellipse cx="428" cy="387" rx="10.5" ry="11"/><ellipse cx="710" cy="389" rx="10.5" ry="11"/><ellipse cx="847" cy="388" rx="10.5" ry="11"/><ellipse cx="991" cy="389" rx="10.5" ry="11"/>
<ellipse cx="428" cy="508" rx="10.5" ry="11"/><ellipse cx="498" cy="508" rx="10.5" ry="11"/><ellipse cx="633" cy="508" rx="10.5" ry="11"/><ellipse cx="775" cy="508" rx="10.5" ry="11"/><ellipse cx="846" cy="507" rx="10.5" ry="11"/><ellipse cx="986" cy="508" rx="10.5" ry="11"/>
<ellipse cx="355" cy="645" rx="10.5" ry="11"/><ellipse cx="422" cy="645" rx="10.5" ry="11"/><ellipse cx="491" cy="644" rx="10.5" ry="11"/><ellipse cx="564" cy="644" rx="10.5" ry="11"/><ellipse cx="633" cy="645" rx="10.5" ry="11"/><ellipse cx="706" cy="644" rx="10.5" ry="11"/><ellipse cx="776" cy="644" rx="10.5" ry="11"/><ellipse cx="846" cy="644" rx="10.5" ry="11"/>
<ellipse cx="1133" cy="708" rx="10.5" ry="11"/>
<ellipse cx="499" cy="780" rx="10.5" ry="11"/><ellipse cx="560" cy="780" rx="10.5" ry="11"/><ellipse cx="633" cy="780" rx="10.5" ry="11"/><ellipse cx="705" cy="780" rx="10.5" ry="11"/><ellipse cx="850" cy="780" rx="10.5" ry="11"/><ellipse cx="913" cy="780" rx="10.5" ry="11"/><ellipse cx="986" cy="780" rx="10.5" ry="11"/>
<ellipse cx="1062" cy="836" rx="10.5" ry="11"/>
<ellipse cx="710" cy="902" rx="10.5" ry="11"/><ellipse cx="710" cy="1046" rx="10.5" ry="11"/><ellipse cx="710" cy="1186" rx="10.5" ry="11"/>
<polygon points="1268.5,172 1279,161 1289.5,172 1279,183"/>
<polygon points="1300.5,124 1311,113 1321.5,124 1311,135"/>
<polygon points="1332.5,148 1343,137 1353.5,148 1343,159"/>
<polygon points="1268.5,322 1279,311 1289.5,322 1279,333"/>
<polygon points="1303.5,355 1314,344 1324.5,355 1314,366"/>
<polygon points="1237.5,388 1248,377 1258.5,388 1248,399"/>
<polygon points="1272.5,508 1283,497 1293.5,508 1283,519"/>
<polygon points="1267.5,645 1278,634 1288.5,645 1278,656"/>
<polygon points="1269.5,708 1280,697 1290.5,708 1280,719"/>
<polygon points="1267.5,780 1278,769 1288.5,780 1278,791"/>
<polygon points="1267.5,836 1278,825 1288.5,836 1278,847"/>
<polygon points="1266.5,903 1277,892 1287.5,903 1277,914"/>
<polygon points="1266.5,1045 1277,1034 1287.5,1045 1277,1056"/>
<polygon points="1265.5,1185 1276,1174 1286.5,1185 1276,1196"/>
</g>
<g class="db">
<ellipse cx="428" cy="190" rx="10.5" ry="11"/><ellipse cx="428" cy="210" rx="10.5" ry="11"/><ellipse cx="428" cy="229" rx="10.5" ry="11"/>
<ellipse cx="1132" cy="289" rx="10.5" ry="11"/>
<ellipse cx="428" cy="403" rx="10.5" ry="11"/><ellipse cx="562" cy="403" rx="10.5" ry="11"/>
<ellipse cx="428" cy="526" rx="10.5" ry="11"/><ellipse cx="498" cy="526" rx="10.5" ry="11"/><ellipse cx="633" cy="526" rx="10.5" ry="11"/><ellipse cx="775" cy="526" rx="10.5" ry="11"/><ellipse cx="846" cy="526" rx="10.5" ry="11"/><ellipse cx="986" cy="526" rx="10.5" ry="11"/>
<ellipse cx="355" cy="664" rx="10.5" ry="11"/><ellipse cx="422" cy="664" rx="10.5" ry="11"/><ellipse cx="491" cy="664" rx="10.5" ry="11"/><ellipse cx="564" cy="664" rx="10.5" ry="11"/><ellipse cx="633" cy="664" rx="10.5" ry="11"/><ellipse cx="706" cy="664" rx="10.5" ry="11"/><ellipse cx="776" cy="664" rx="10.5" ry="11"/><ellipse cx="846" cy="664" rx="10.5" ry="11"/>
<ellipse cx="1133" cy="730" rx="10.5" ry="11"/>
<ellipse cx="499" cy="800" rx="10.5" ry="11"/><ellipse cx="560" cy="800" rx="10.5" ry="11"/><ellipse cx="633" cy="800" rx="10.5" ry="11"/><ellipse cx="705" cy="800" rx="10.5" ry="11"/><ellipse cx="850" cy="800" rx="10.5" ry="11"/><ellipse cx="913" cy="800" rx="10.5" ry="11"/><ellipse cx="986" cy="800" rx="10.5" ry="11"/>
<ellipse cx="1062" cy="857" rx="10.5" ry="11"/>
<ellipse cx="710" cy="923" rx="10.5" ry="11"/><ellipse cx="710" cy="1067" rx="10.5" ry="11"/><ellipse cx="710" cy="1204" rx="10.5" ry="11"/>
<ellipse cx="1120" cy="1450" rx="10.5" ry="11"/>
<polygon points="1147.5,190 1158,179 1168.5,190 1158,201"/>
<polygon points="1180.5,210 1191,199 1201.5,210 1191,221"/>
<polygon points="1213.5,229 1224,218 1234.5,229 1224,240"/>
<polygon points="1147.5,289 1158,278 1168.5,289 1158,300"/>
<polygon points="1147.5,402 1158,391 1168.5,402 1158,413"/>
<polygon points="1149.5,525 1160,514 1170.5,525 1160,536"/>
<polygon points="1146.5,663 1157,652 1167.5,663 1157,674"/>
<polygon points="1147.5,730 1158,719 1168.5,730 1158,741"/>
<polygon points="1150.5,800 1161,789 1171.5,800 1161,811"/>
<polygon points="1144.5,857 1155,846 1165.5,857 1155,868"/>
<polygon points="1144.5,923 1155,912 1165.5,923 1155,934"/>
<polygon points="1143.5,1066 1154,1055 1164.5,1066 1154,1077"/>
<polygon points="1144.5,1204 1155,1193 1165.5,1204 1155,1215"/>
<polygon points="1138.5,1450 1149,1439 1159.5,1450 1149,1461"/>
</g>
<g class="dp">
<ellipse cx="570" cy="243" rx="10.5" ry="11"/>
<ellipse cx="991" cy="305" rx="10.5" ry="11"/>
<ellipse cx="710" cy="370" rx="10.5" ry="11"/><ellipse cx="847" cy="369" rx="10.5" ry="11"/>
<ellipse cx="569" cy="961" rx="10.5" ry="11"/>
<ellipse cx="1126" cy="1259" rx="10.5" ry="11"/><ellipse cx="1126" cy="1281" rx="10.5" ry="11"/>
<polygon points="1367.5,244 1378,233 1388.5,244 1378,255"/>
<polygon points="1365.5,306 1376,295 1386.5,306 1376,317"/>
<polygon points="1369.5,369 1380,358 1390.5,369 1380,380"/>
<polygon points="1366.5,962 1377,951 1387.5,962 1377,973"/>
<polygon points="1402.5,1259 1413,1248 1423.5,1259 1413,1270"/>
<polygon points="1435.5,1281 1446,1270 1456.5,1281 1446,1292"/>
</g>
<g id="prereq-arrows">
<line class="ga" x1="257" y1="1088" x2="316.6" y2="253"/>
<line class="ga" x1="267" y1="1253" x2="332.6" y2="253"/>
<line class="ga" x1="257" y1="1088" x2="321.1" y2="677.9"/>
<line class="ga" x1="267" y1="1253" x2="334.3" y2="683"/>
</g>
</g>

<g id="dp-labels">
<text class="dpl" fill="#4472c4" transform="translate(1156 0) scale(0.74 1)" x="0" y="1469.5">DP1</text>
<text class="dpl" fill="#4472c4" transform="translate(1189 0) scale(0.74 1)" x="0" y="1469.5">DP2</text>
<text class="dpl" fill="#4472c4" transform="translate(1217 0) scale(0.74 1)" x="0" y="1469.5">DP3</text>
<text class="dpl" fill="#548235" transform="translate(1249 0) scale(0.74 1)" x="0" y="1469.5">DP4</text>
<text class="dpl" fill="#548235" transform="translate(1281 0) scale(0.74 1)" x="0" y="1469.5">DP5</text>
<text class="dpl" fill="#548235" transform="translate(1313 0) scale(0.74 1)" x="0" y="1469.5">DP6</text>
<text class="dpl" fill="#548235" transform="translate(1347 0) scale(0.74 1)" x="0" y="1469.5">DP7</text>
<text class="dpl" fill="#f04aa9" transform="translate(1382 0) scale(0.74 1)" x="0" y="1469.5">DP8</text>
<text class="dpl" fill="#f04aa9" transform="translate(1413 0) scale(0.74 1)" x="0" y="1469.5">DP9</text>
<text class="dpl" fill="#f04aa9" transform="translate(1449 0) scale(0.74 1)" x="0" y="1439.5">DP10</text>
</g>

<g id="philosophy">
<rect x="1497.5" y="45" width="53.5" height="1518" fill="#fff" stroke="#000" stroke-width="3"/>
<text class="vt" x="1523" y="520">【基本理念】　フロンティア精神　国際性の涵養　全人教育　実学の重視</text>
<line x1="1463" y1="808" x2="1487" y2="808" stroke="#000" stroke-width="4"/>
<polygon points="1485,801 1497,808 1485,815" fill="#000"/>
<polygon points="1516,1568 1523,1557 1530,1568" fill="#000"/>
</g>
<rect x="141" y="1556" width="6" height="12" fill="#000"/>
</g>
</svg>
